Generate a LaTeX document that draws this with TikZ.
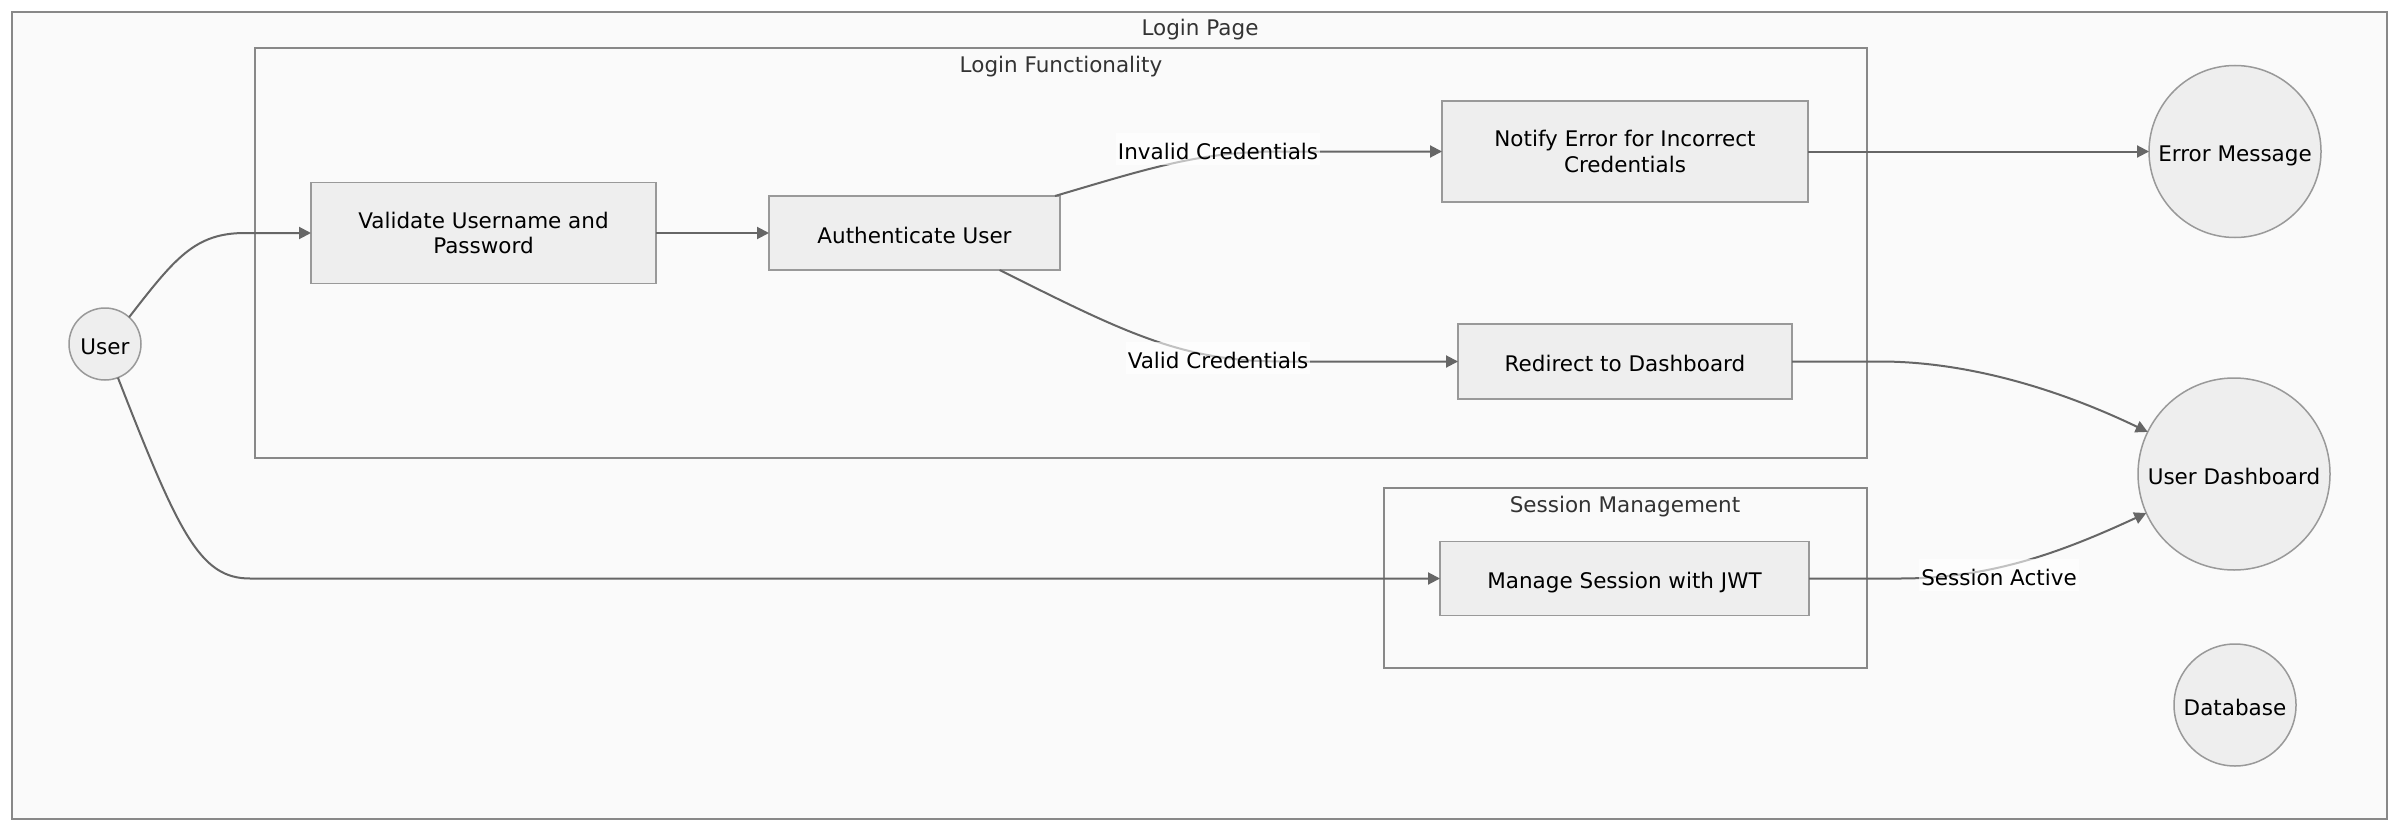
\documentclass[tikz,border=0pt]{standalone}
\usepackage{fontspec}
\setmainfont{DejaVu Sans}
\usetikzlibrary{arrows.meta}
\definecolor{nodefill}{HTML}{EEEEEE}
\definecolor{nodeline}{HTML}{999999}
\definecolor{clfill}{HTML}{FAFAFA}
\definecolor{clline}{HTML}{888888}
\definecolor{edgecol}{HTML}{666666}
\definecolor{titlecol}{HTML}{333333}
\begin{document}
\begin{tikzpicture}[x=1pt,y=-1pt,
  every node/.style={font=\fontsize{21.5}{25.7}\selectfont, inner sep=0pt, outer sep=0pt},
  oneline/.style={text height=20.4pt, text depth=0pt},
  box/.style={draw=nodeline, fill=nodefill, line width=1.5pt, rectangle, align=center},
  circ/.style={draw=nodeline, fill=nodefill, line width=1.5pt, circle, oneline},
  cluster/.style={draw=clline, fill=clfill, line width=1.5pt, rectangle},
  ctitle/.style={text=titlecol, oneline},
  edge/.style={draw=edgecol, line width=2pt, -{Triangle[length=12pt,width=12pt]}},
  elabel/.style={fill=white, fill opacity=0.6, text opacity=1, inner xsep=2pt, inner ysep=5.8pt, oneline}
]
\useasboundingbox (0,0) rectangle (2400,832);
\fill[white] (0,0) rectangle (2400,832);
% clusters
\node[cluster, minimum width=2375pt, minimum height=807pt] (page) at (1199.5,415.5) {};
\node[ctitle] (tpage) at (1200,25.8) {Login Page};
\node[cluster, minimum width=1612pt, minimum height=410pt] (lf) at (1061,253) {};
\node[ctitle] (tlf) at (1061,62.4) {Login Functionality};
\node[cluster, minimum width=483pt, minimum height=180pt] (sm) at (1625.5,578) {};
\node[ctitle] (tsm) at (1625,502.3) {Session Management};
% nodes
\node[circ, minimum size=72pt] (user) at (105,344) {User};
\node[box, minimum width=345pt, minimum height=101pt] (val) at (483.5,233) {Validate Username and\\Password};
\node[box, oneline, minimum width=291pt, minimum height=74pt] (auth) at (914.5,233) {Authenticate User};
\node[box, minimum width=366pt, minimum height=101pt] (notify) at (1625,151.5) {Notify Error for Incorrect\\Credentials};
\node[box, oneline, minimum width=334pt, minimum height=75pt] (redir) at (1625,361.5) {Redirect to Dashboard};
\node[box, oneline, minimum width=369pt, minimum height=74pt] (jwt) at (1624.5,578.5) {Manage Session with JWT};
\node[circ, minimum size=172pt] (err) at (2235,151.5) {Error Message};
\node[circ, minimum size=192pt] (dash) at (2234,474) {User Dashboard};
\node[circ, minimum size=122pt] (db) at (2235,705) {Database};
% edges
\draw[edge] (user.48) .. controls (175,258) and (195,233) .. (245,233) -- (val.west);
\draw[edge] (user.-69) .. controls (179,534) and (200,578.5) .. (250,578.5) -- (jwt.west);
\draw[edge] (val.east) -- (auth.west);
\draw[edge] (auth.north east) ++(-5,0) coordinate (a1) (a1) .. controls (1150,168) and (1200,151.5) .. (1280,151.5) -- (notify.west);
\draw[edge] (auth.south) ++(85,0) coordinate (a2) (a2) .. controls (1120,330) and (1180,361.5) .. (1280,361.5) -- (redir.west);
\draw[edge] (notify.east) -- (err.west);
\draw[edge] (redir.east) -- (1880,361.5) .. controls (1960,361.5) and (2050,385) .. (dash.154);
\draw[edge] (jwt.east) -- (1900,578.5) .. controls (1990,578.5) and (2060,553) .. (dash.204);
% edge labels
\node[elabel] (linv) at (1218,149.1) {Invalid Credentials};
\node[elabel] (lval) at (1218,358.1) {Valid Credentials};
\node[elabel] (lses) at (1999,574.8) {Session Active};
\end{tikzpicture}
\end{document}
